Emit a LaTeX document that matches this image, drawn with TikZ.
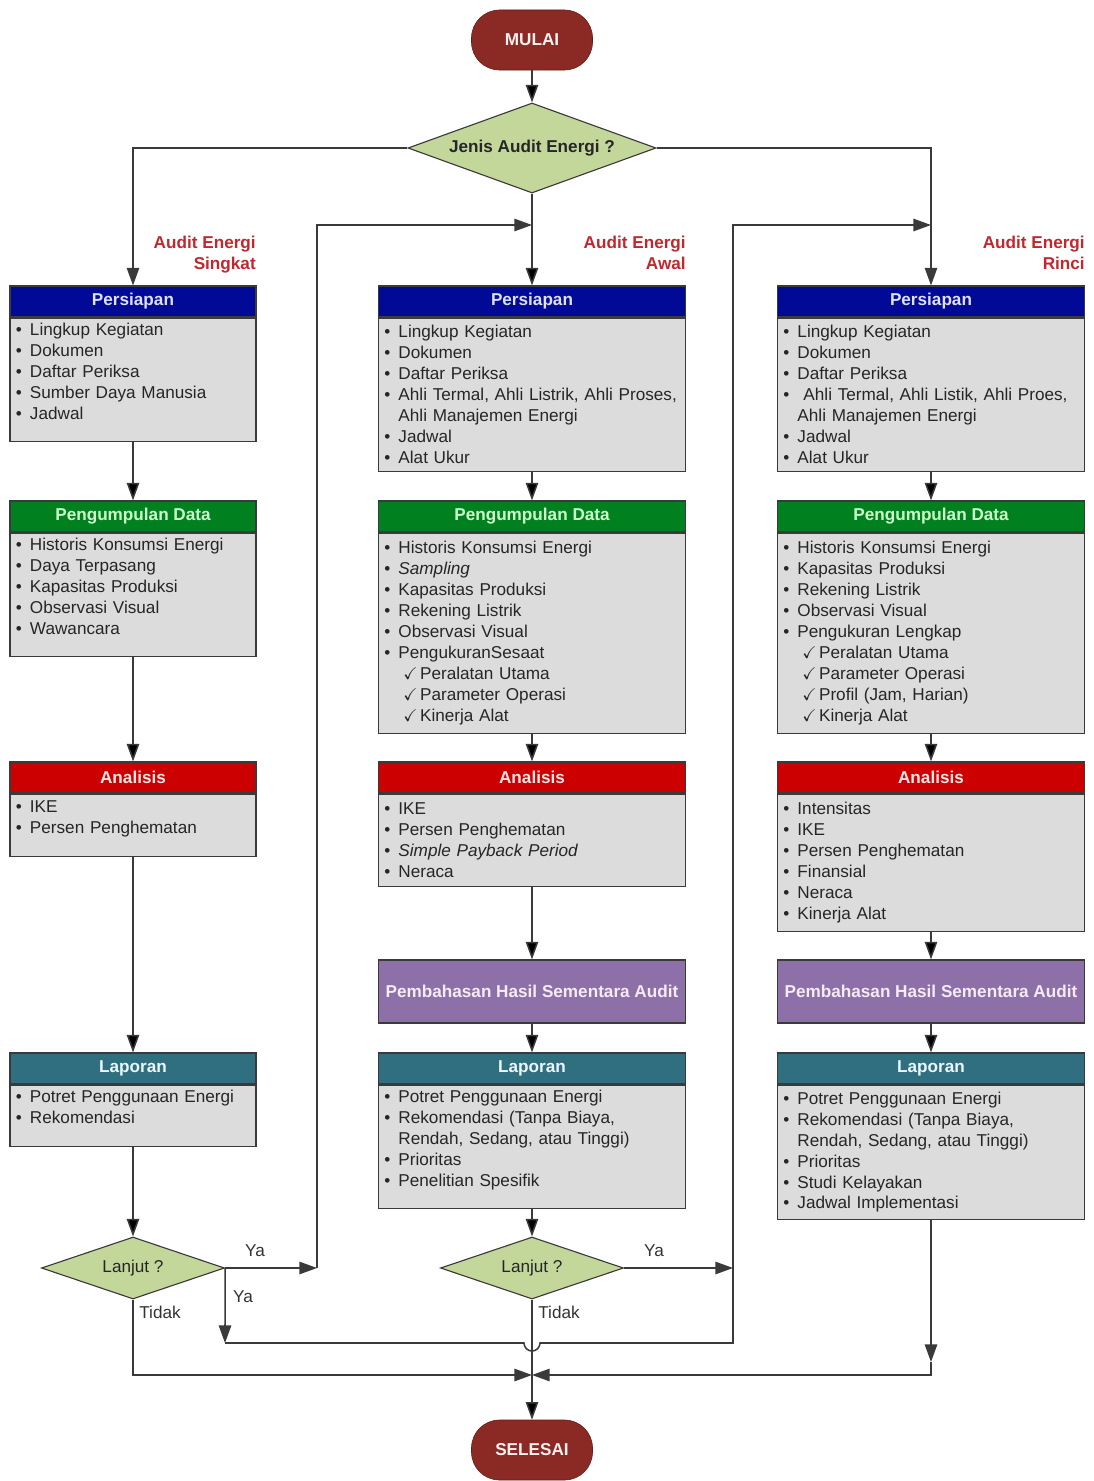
\documentclass[tikz,border=0pt]{standalone}
\usepackage{amssymb}
\usepackage{xcolor}
\usepackage{fontspec}
\setmainfont{Liberation Sans}
\usetikzlibrary{arrows.meta,positioning,shapes.geometric}

\definecolor{persiapanblue}{HTML}{000A96}
\definecolor{datagreen}{HTML}{00801E}
\definecolor{analisisred}{HTML}{CC0000}
\definecolor{laporanteal}{HTML}{2F6F80}
\definecolor{bahaspurple}{HTML}{8E70A8}
\definecolor{bodygray}{HTML}{DCDCDC}
\definecolor{decisiongreen}{HTML}{C4D79B}
\definecolor{termred}{HTML}{8B2A24}
\definecolor{labelred}{HTML}{C0282D}
\definecolor{linegray}{HTML}{3A3A3A}

\newcommand{\bul}{\makebox[0.35cm][l]{\textbullet}}
\newcommand{\chk}{\hspace*{0.47cm}\makebox[0.42cm][l]{$\checkmark$}}
\newcommand{\wrp}{\hspace*{0.35cm}}
\newcommand{\padbot}{\rule[-12pt]{0pt}{12pt}}

\begin{document}
\begin{tikzpicture}[x=0.025cm,y=-0.025cm,->,>={Triangle[length=0.44cm,width=0.31cm]},
    font=\fontsize{12.2}{14.9}\selectfont,
    link/.style={draw=linegray,line width=1.1pt},
    head/.style={draw=linegray,line width=0.8pt,minimum width=#1,minimum height=0.775cm,
                 inner sep=0pt,font=\fontsize{12.2}{14.9}\selectfont\bfseries},
    hpersiapan/.style={fill=persiapanblue,text=blue!12!white},
    hdata/.style={fill=datagreen,text=green!20!white},
    hanalisis/.style={fill=analisisred,text=red!10!white},
    hlaporan/.style={fill=laporanteal,text=cyan!8!white},
    body/.style 2 args={draw=linegray,line width=0.8pt,fill=bodygray,text width=#1,minimum height=#2,
                        inner xsep=0.15cm,inner ysep=0pt,align=left,text=black!85},
    bahas/.style={draw=linegray,line width=0.8pt,fill=bahaspurple,text=violet!8!white,
                  minimum width=7.675cm,minimum height=1.575cm,inner sep=0pt,
                  font=\fontsize{12.2}{14.9}\selectfont\bfseries},
    term/.style={rectangle,rounded corners=0.7cm,draw=termred!70!black,fill=termred,text=red!6!white,
                 minimum width=3.025cm,minimum height=1.5cm,font=\fontsize{12.2}{14.9}\selectfont\bfseries},
    decision/.style={diamond,draw=linegray,line width=0.8pt,fill=decisiongreen,inner sep=0pt,text=black!85},
    audit/.style={text=labelred,align=right,anchor=north east,inner sep=0pt,
                  font=\fontsize{12.2}{14.9}\selectfont\bfseries},
    answer/.style={inner sep=0pt,text=black!80}]

  \useasboundingbox (0,0) rectangle (1093,1481);

  % start and type of audit
  \node[term] (start) at (532,40) {MULAI};
  \node[decision,aspect=2.76,minimum width=6.2cm,minimum height=2.25cm,
        font=\fontsize{12.2}{14.9}\selectfont\bfseries] (jenis) at (532,148) {Jenis Audit Energi ?};

  \node[audit] (lab1) at (256,236) {Audit Energi\\Singkat};
  \node[audit] (lab2) at (686,236) {Audit Energi\\Awal};
  \node[audit] (lab3) at (1085,236) {Audit Energi\\Rinci};

  % Audit Energi Singkat
  \node[head=6.15cm,hpersiapan] (P1h) at (133,301.5) {Persiapan};
  \node[body={5.85cm}{3.075cm},below=0pt of P1h] (P1b) {\bul Lingkup Kegiatan\\ \bul Dokumen\\
    \bul Daftar Periksa\\ \bul Sumber Daya Manusia\\ \bul Jadwal\padbot};
  \node[head=6.15cm,hdata] (G1h) at (133,516.5) {Pengumpulan Data};
  \node[body={5.85cm}{3.075cm},below=0pt of G1h] (G1b) {\bul Historis Konsumsi Energi\\
    \bul Daya Terpasang\\ \bul Kapasitas Produksi\\ \bul Observasi Visual\\ \bul Wawancara\padbot};
  \node[head=6.15cm,hanalisis] (A1h) at (133,777.5) {Analisis};
  \node[body={5.85cm}{1.55cm},below=0pt of A1h] (A1b) {\bul IKE\\ \bul Persen Penghematan\padbot};
  \node[head=6.15cm,hlaporan] (L1h) at (133,1068.5) {Laporan};
  \node[body={5.85cm}{1.525cm},below=0pt of L1h] (L1b) {\bul Potret Penggunaan Energi\\
    \bul Rekomendasi\padbot};
  \node[decision,aspect=2.95,minimum width=4.575cm,minimum height=1.55cm] (Q1) at (133,1268) {Lanjut ?};

  % Audit Energi Awal
  \node[head=7.675cm,hpersiapan] (P2h) at (532,301.5) {Persiapan};
  \node[body={7.375cm}{3.825cm},below=0pt of P2h] (P2b) {\bul Lingkup Kegiatan\\ \bul Dokumen\\
    \bul Daftar Periksa\\ \bul Ahli Termal, Ahli Listrik, Ahli Proses,\\ \wrp Ahli Manajemen Energi\\
    \bul Jadwal\\ \bul Alat Ukur};
  \node[head=7.675cm,hdata] (G2h) at (532,516.5) {Pengumpulan Data};
  \node[body={7.375cm}{5cm},below=0pt of G2h] (G2b) {\bul Historis Konsumsi Energi\\
    \bul \textit{Sampling}\\ \bul Kapasitas Produksi\\ \bul Rekening Listrik\\ \bul Observasi Visual\\
    \bul PengukuranSesaat\\ \chk Peralatan Utama\\ \chk Parameter Operasi\\ \chk Kinerja Alat};
  \node[head=7.675cm,hanalisis] (A2h) at (532,777.5) {Analisis};
  \node[body={7.375cm}{2.3cm},below=0pt of A2h] (A2b) {\bul IKE\\ \bul Persen Penghematan\\
    \bul \textit{Simple Payback Period}\\ \bul Neraca};
  \node[bahas] (B2) at (532,991.5) {Pembahasan Hasil Sementara Audit};
  \node[head=7.675cm,hlaporan] (L2h) at (532,1068.5) {Laporan};
  \node[body={7.375cm}{3.075cm},below=0pt of L2h] (L2b) {\bul Potret Penggunaan Energi\\
    \bul Rekomendasi (Tanpa Biaya,\\ \wrp Rendah, Sedang, atau Tinggi)\\ \bul Prioritas\\
    \bul Penelitian Spesifik\padbot};
  \node[decision,aspect=2.95,minimum width=4.575cm,minimum height=1.55cm] (Q2) at (532,1268) {Lanjut ?};

  % Audit Energi Rinci
  \node[head=7.675cm,hpersiapan] (P3h) at (931,301.5) {Persiapan};
  \node[body={7.375cm}{3.825cm},below=0pt of P3h] (P3b) {\bul Lingkup Kegiatan\\ \bul Dokumen\\
    \bul Daftar Periksa\\ \bul\hspace*{0.15cm}Ahli Termal, Ahli Listik, Ahli Proes,\\
    \wrp Ahli Manajemen Energi\\ \bul Jadwal\\ \bul Alat Ukur};
  \node[head=7.675cm,hdata] (G3h) at (931,516.5) {Pengumpulan Data};
  \node[body={7.375cm}{5cm},below=0pt of G3h] (G3b) {\bul Historis Konsumsi Energi\\
    \bul Kapasitas Produksi\\ \bul Rekening Listrik\\ \bul Observasi Visual\\ \bul Pengukuran Lengkap\\
    \chk Peralatan Utama\\ \chk Parameter Operasi\\ \chk Profil (Jam, Harian)\\ \chk Kinerja Alat};
  \node[head=7.675cm,hanalisis] (A3h) at (931,777.5) {Analisis};
  \node[body={7.375cm}{3.425cm},below=0pt of A3h] (A3b) {\bul Intensitas\\ \bul IKE\\
    \bul Persen Penghematan\\ \bul Finansial\\ \bul Neraca\\ \bul Kinerja Alat};
  \node[bahas] (B3) at (931,991.5) {Pembahasan Hasil Sementara Audit};
  \node[head=7.675cm,hlaporan] (L3h) at (931,1068.5) {Laporan};
  \node[body={7.375cm}{3.35cm},below=0pt of L3h] (L3b) {\bul Potret Penggunaan Energi\\
    \bul Rekomendasi (Tanpa Biaya,\\ \wrp Rendah, Sedang, atau Tinggi)\\ \bul Prioritas\\
    \bul Studi Kelayakan\\ \bul Jadwal Implementasi};

  \node[term] (stop) at (532,1450) {SELESAI};

  % turning points of the connectors
  \coordinate (topB) at (532,225);
  \coordinate (topC) at (931,225);
  \coordinate (yaA) at (317,1268);
  \coordinate (yaC) at (225,1343);
  \coordinate (hopL) at (524,1343);
  \coordinate (yaD) at (733,1268);
  \coordinate (yaE) at (733,1343);
  \coordinate (midT) at (532,1375);
  \coordinate (rDn) at (931,1362);

  \path[link]
    (start) edge (jenis)
    (jenis) edge (P2h)
    (P1b) edge (G1h)
    (G1b) edge (A1h)
    (A1b) edge (L1h)
    (L1b) edge (Q1)
    (P2b) edge (G2h)
    (G2b) edge (A2h)
    (A2b) edge (B2)
    (B2) edge (L2h)
    (L2b) edge (Q2)
    (P3b) edge (G3h)
    (G3b) edge (A3h)
    (A3b) edge (B3)
    (B3) edge (L3h)
    (Q2) edge (stop)
  ;
  \draw[link] (jenis.west) -| (P1h.north);
  \draw[link] (jenis.east) -| (P3h.north);
  \draw[link] (Q1.east) -- (yaA);
  \draw[link] (yaA) |- (topB);
  \draw[link] (Q1.east) -- (yaC);
  \draw[link] (yaC) -- (hopL) arc[start angle=180,end angle=360,radius=0.2cm] -- (yaE) |- (topC);
  \draw[link] (Q2.east) -- (yaD);
  \draw[link] (Q1.south) |- (midT);
  \draw[link] (L3b.south) -- (rDn);
  \draw[link] (rDn) |- (midT);

  \node[answer] (ya1) at (255,1251) {Ya};
  \node[answer] (ya2) at (243,1297) {Ya};
  \node[answer] (tidak1) at (160,1312) {Tidak};
  \node[answer] (ya3) at (654,1251) {Ya};
  \node[answer] (tidak2) at (559,1312) {Tidak};
\end{tikzpicture}
\end{document}
